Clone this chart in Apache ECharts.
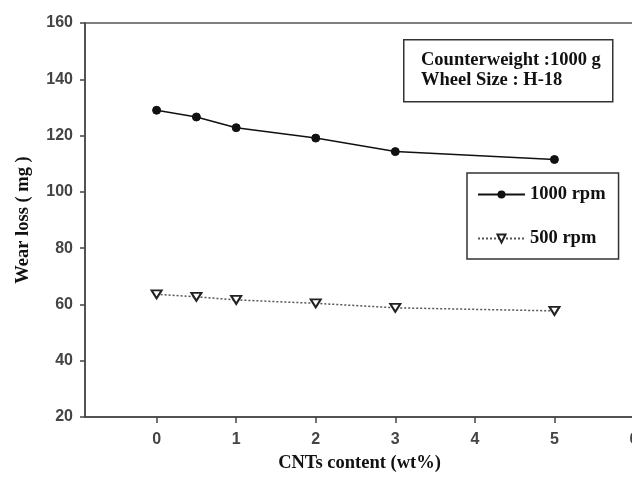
<!DOCTYPE html>
<html>
<head>
<meta charset="utf-8">
<script src="https://cdn.jsdelivr.net/npm/echarts@6/dist/echarts.min.js"></script>
<style>
html,body{margin:0;padding:0;background:#fff;}
#chart{width:632px;height:480px;}
</style>
</head>
<body>
<div id="chart"></div>
<script>
// ---- data ----
const cntContent = [0, 0.5, 1, 2, 3, 5];
const wear1000 = [129.0, 126.6, 122.8, 119.1, 114.3, 111.5];
const wear500 = [63.6, 62.7, 61.6, 60.4, 58.8, 57.7];
const xTicks = [0, 1, 2, 3, 4, 5, 6];
const yMin = 20, yMax = 160, yStep = 20;
const seriesNames = ['1000 rpm', '500 rpm'];
const noteLines = ['Counterweight :1000 g', 'Wheel Size : H-18'];
const xTitle = 'CNTs content (wt%)';
const yTitle = 'Wear loss ( mg )';

const serif = "'Liberation Serif', 'Times New Roman', serif";
const sans = "'Liberation Sans', Arial, sans-serif";

const chart = echarts.init(document.getElementById('chart'), null, {renderer: 'canvas'});
chart.setOption({
  animation: false,
  backgroundColor: '#fff',
  grid: {
    left: 85, top: 23, right: -2, bottom: 63,
    show: true, borderColor: '#555', borderWidth: 1.5,
    outerBoundsMode: 'none'
  },
  xAxis: {
    type: 'value', min: -0.9, max: 6,
    name: xTitle, nameLocation: 'middle', nameGap: 37,
    nameTextStyle: {fontFamily: serif, fontWeight: 'bold', fontSize: 18.5, color: '#111'},
    axisLine: {show: true, onZero: false, lineStyle: {color: '#444', width: 1.5}},
    axisTick: {show: true, length: 6, customValues: xTicks, lineStyle: {color: '#444', width: 1.5}},
    axisLabel: {customValues: xTicks, margin: 15, fontFamily: sans, fontSize: 16, fontWeight: 'bold', color: '#444'},
    splitLine: {show: false}
  },
  yAxis: {
    type: 'value', min: yMin, max: yMax, interval: yStep,
    name: yTitle, nameLocation: 'middle', nameGap: 52, nameRotate: 90,
    nameTextStyle: {fontFamily: serif, fontWeight: 'bold', fontSize: 18.5, color: '#111'},
    axisLine: {show: true, onZero: false, lineStyle: {color: '#444', width: 1.5}},
    axisTick: {show: true, length: 5, lineStyle: {color: '#444', width: 1.5}},
    axisLabel: {margin: 12, fontFamily: sans, fontSize: 16, fontWeight: 'bold', color: '#444'},
    splitLine: {show: false}
  },
  legend: {
    orient: 'vertical', left: 467, top: 173,
    padding: [12, 13, 11, 10], itemGap: 25,
    itemWidth: 47, itemHeight: 10,
    borderColor: '#333', borderWidth: 1.5, backgroundColor: '#fff',
    textStyle: {fontFamily: serif, fontWeight: 'bold', fontSize: 18.5, color: '#111'},
    data: seriesNames
  },
  graphic: [
    {
      type: 'rect', left: 403, top: 39, z: 100,
      shape: {width: 209, height: 62},
      style: {fill: '#fff', stroke: '#333', lineWidth: 1.5}
    },
    {
      type: 'text', left: 421, top: 50, z: 101,
      style: {
        text: noteLines.join('\n'), font: "bold 18.5px " + serif,
        fill: '#111', lineHeight: 20
      }
    }
  ],
  series: [
    {
      name: seriesNames[0], type: 'line',
      data: cntContent.map((x, i) => [x, wear1000[i]]),
      symbol: 'circle', symbolSize: 8,
      lineStyle: {color: '#111', width: 1.5, type: 'solid'},
      itemStyle: {color: '#111', borderColor: '#111'}
    },
    {
      name: seriesNames[1], type: 'line',
      data: cntContent.map((x, i) => [x, wear500[i]]),
      symbol: 'triangle', symbolRotate: 180, symbolSize: [10, 8],
      lineStyle: {color: '#555', width: 1.5, type: [2, 2]},
      itemStyle: {color: '#fff', borderColor: '#222', borderWidth: 2}
    }
  ]
});
</script>
</body>
</html>
